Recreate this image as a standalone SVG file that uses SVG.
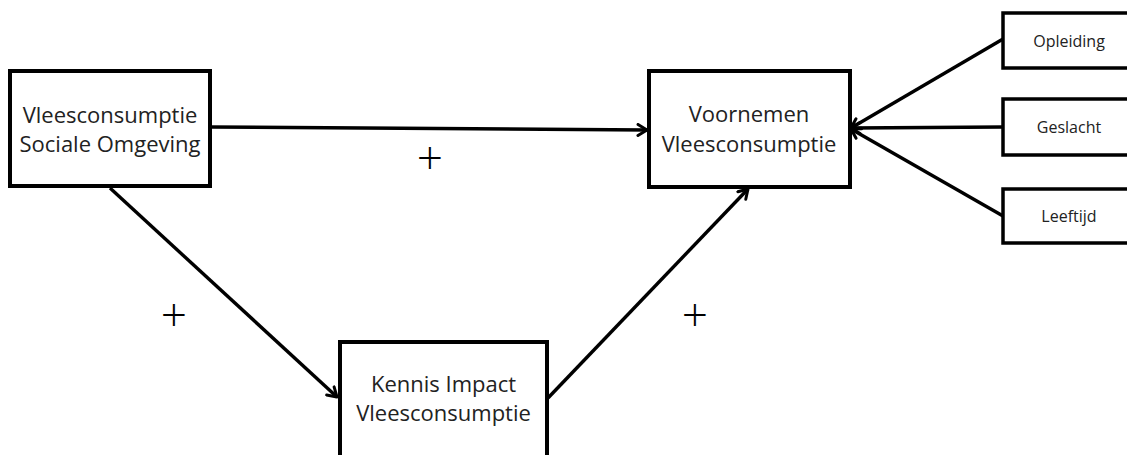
<svg xmlns="http://www.w3.org/2000/svg" width="1127" height="455" viewBox="0 0 1127 455">
<style>
.box{fill:#fff;stroke:#000;stroke-width:4}
.sbox{fill:#fff;stroke:#000;stroke-width:3.5}
.t{font-family:"Open Sans","Liberation Sans",sans-serif;font-size:22px;fill:#222;text-anchor:middle}
.ts{font-family:"Open Sans","Liberation Sans",sans-serif;font-size:16px;fill:#222;text-anchor:middle}
.plus{font-family:"Open Sans","Liberation Sans",sans-serif;font-size:46px;font-weight:300;fill:#000;text-anchor:middle}
.c{fill:none;stroke:#000;stroke-width:3.4;marker-end:url(#ah)}
</style>
<defs>
<marker id="ah" viewBox="0 0 14 14" refX="12" refY="7" markerWidth="14" markerHeight="14" markerUnits="userSpaceOnUse" orient="auto">
<path d="M3,1.5 L12,7 L3,12.5" fill="none" stroke="#000" stroke-width="3" stroke-linecap="round" stroke-linejoin="round"/>
</marker>
</defs>
<rect width="1127" height="455" fill="#fff"/>
<g id="connectors">
<path class="c" d="M210,127 L647,130"/>
<path class="c" d="M110,188 L337,397"/>
<path class="c" d="M548,398 L748,189"/>
<path class="c" d="M1003,39 L851,128"/>
<path class="c" d="M1003,127 L851,128"/>
<path class="c" d="M1003,216 L851,129"/>
</g>
<g id="n-sociale">
<rect class="box" x="10" y="71" width="200" height="115"/>
<text class="t" x="110" y="123">Vleesconsumptie</text>
<text class="t" x="110" y="152">Sociale Omgeving</text>
</g>
<g id="n-voornemen">
<rect class="box" x="649" y="71" width="201" height="116"/>
<text class="t" x="749" y="122">Voornemen</text>
<text class="t" x="749" y="152">Vleesconsumptie</text>
</g>
<g id="n-kennis">
<rect class="box" x="340" y="342" width="207" height="120"/>
<text class="t" x="443.5" y="392">Kennis Impact</text>
<text class="t" x="443.5" y="421">Vleesconsumptie</text>
</g>
<g id="n-opleiding">
<rect class="sbox" x="1003" y="13" width="130" height="55"/>
<text class="ts" x="1069" y="47">Opleiding</text>
</g>
<g id="n-geslacht">
<rect class="sbox" x="1003" y="99" width="130" height="56"/>
<text class="ts" x="1069" y="133">Geslacht</text>
</g>
<g id="n-leeftijd">
<rect class="sbox" x="1003" y="189" width="130" height="54"/>
<text class="ts" x="1069" y="222">Leeftijd</text>
</g>
<g id="labels">
<text class="plus" x="430" y="174">+</text>
<text class="plus" x="174" y="331">+</text>
<text class="plus" x="695" y="331">+</text>
</g>
</svg>
